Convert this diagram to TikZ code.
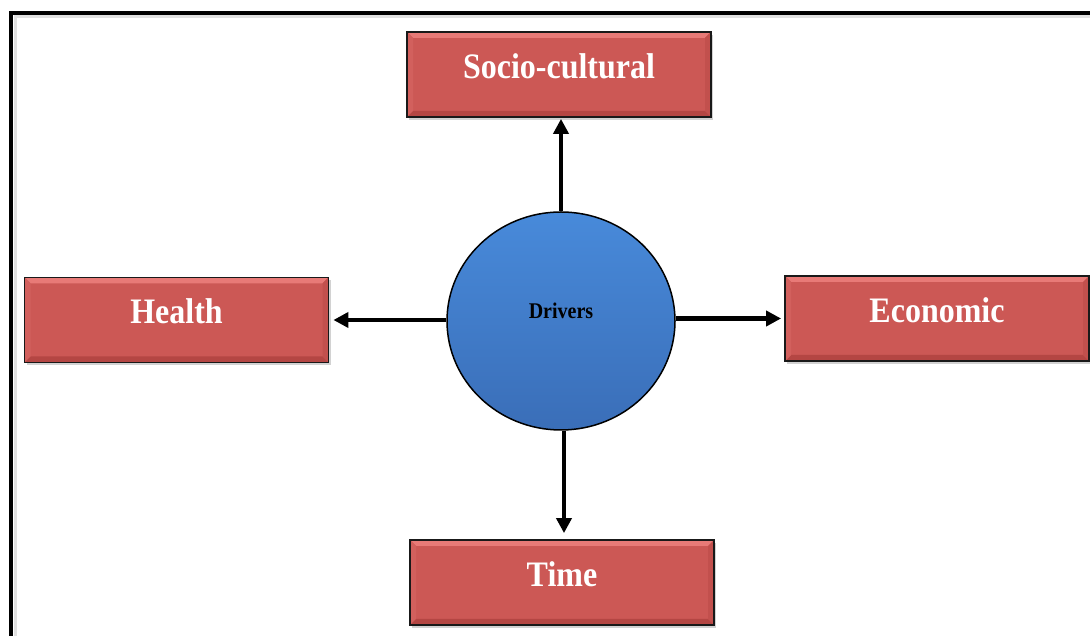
\documentclass[tikz,border=0pt]{standalone}
\usepackage{fontspec}
\usepackage{graphicx}
\setmainfont{Liberation Serif}
\usetikzlibrary{arrows.meta,shapes.geometric,shadows,calc}
\definecolor{boxred}{RGB}{204,88,85}
\definecolor{bevtop}{RGB}{232,122,119}
\definecolor{bevbot}{RGB}{180,70,67}
\definecolor{bevleft}{RGB}{210,96,93}
\definecolor{bevright}{RGB}{194,80,77}
\definecolor{blueA}{RGB}{72,138,218}
\definecolor{blueB}{RGB}{58,110,184}
\newcommand\vstretch[1]{\scalebox{1}[1.12]{#1}}
\tikzset{
  factor/.style={draw=black!90, line width=1.8pt, fill=boxred,
    minimum width=304pt, minimum height=85pt, inner sep=0pt,
    text=white, font=\bfseries\fontsize{32}{36}\selectfont, text depth=17pt,
    drop shadow={shadow xshift=2pt,shadow yshift=-3pt,opacity=0.35},
    path picture={
      \fill[bevtop] (path picture bounding box.north west) -- (path picture bounding box.north east)
        -- ([shift={(-6pt,-6pt)}]path picture bounding box.north east) -- ([shift={(6pt,-6pt)}]path picture bounding box.north west) -- cycle;
      \fill[bevbot] (path picture bounding box.south west) -- (path picture bounding box.south east)
        -- ([shift={(-6pt,6pt)}]path picture bounding box.south east) -- ([shift={(6pt,6pt)}]path picture bounding box.south west) -- cycle;
      \fill[bevleft] (path picture bounding box.north west) -- (path picture bounding box.south west)
        -- ([shift={(6pt,6pt)}]path picture bounding box.south west) -- ([shift={(6pt,-6pt)}]path picture bounding box.north west) -- cycle;
      \fill[bevright] (path picture bounding box.north east) -- (path picture bounding box.south east)
        -- ([shift={(-6pt,6pt)}]path picture bounding box.south east) -- ([shift={(-6pt,-6pt)}]path picture bounding box.north east) -- cycle;
    }},
  hub/.style={ellipse, draw=black, line width=1.5pt, minimum width=228pt, minimum height=218pt,
    inner sep=0pt, top color=blueA, bottom color=blueB, text=black,
    font=\bfseries\fontsize{20}{24}\selectfont, text depth=20pt},
  conn/.style={line width=4.3pt, -{Triangle[length=15pt,width=15pt]}},
  frameline/.style={line width=3.7pt, black},
  frameshadow/.style={line width=3pt, black!12}
}
\begin{document}
\begin{tikzpicture}[x=1pt,y=1pt]
  \useasboundingbox (0,0) rectangle (1090,636);
  \clip (0,0) rectangle (1090,636);
  \fill[white] (0,0) rectangle (1090,636);
  % frame
  \draw[frameshadow] (15,-30) |- (1120,619.3);
  \draw[frameline] (10.8,-30) |- (1120,623.2);
  % nodes
  \node[hub] (d) at (561,315) {\vstretch{Drivers}};
  \node[factor] (s) at (559,561.5) {\vstretch{Socio-cultural}};
  \node[factor] (h) at (176.5,316) {\vstretch{Health}};
  \node[factor] (e) at (937,317.5) {\vstretch{Economic}};
  \node[factor] (t) at (562,53.5) {\vstretch{Time}};
  % connectors
  \draw[conn, shorten >=1pt] (d.north) -- (d.north |- s.south);
  \draw[conn, shorten >=6pt] ([xshift=3pt]d.south) -- ([xshift=3pt]d.south |- t.north);
  \draw[conn, shorten >=4pt] (h.east -| d.west) -- (h.east);
  \draw[conn, shorten >=3pt] (e.west -| d.east) -- (e.west);
\end{tikzpicture}
\end{document}
